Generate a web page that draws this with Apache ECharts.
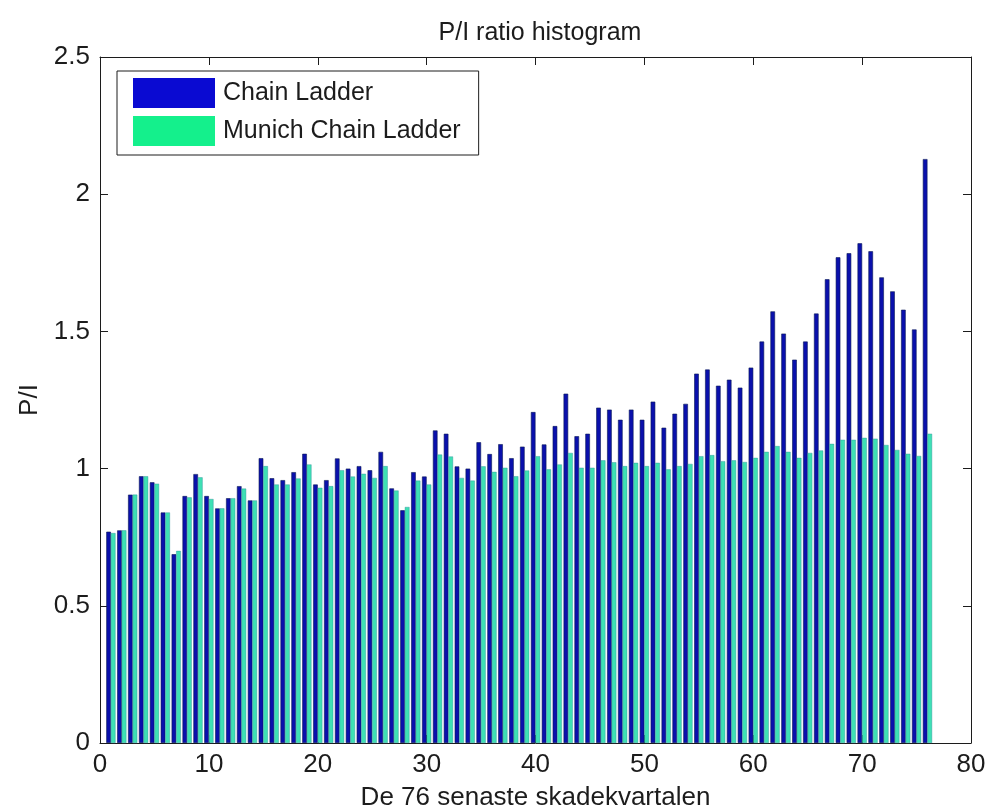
<!DOCTYPE html>
<html>
<head>
<meta charset="utf-8">
<title>P/I ratio histogram</title>
<script src="https://cdn.jsdelivr.net/npm/echarts@6/dist/echarts.min.js"></script>
<style>
  html, body { margin: 0; padding: 0; background: #fff; }
  #chart { width: 986px; height: 810px; }
</style>
</head>
<body>
<div id="chart"></div>
<script>
// Loss quarters (1 = oldest of the 76 most recent)
const quarters = [
  1, 2, 3, 4, 5, 6, 7, 8, 9, 10, 11, 12, 13, 14, 15, 16, 17, 18, 19, 20,
  21, 22, 23, 24, 25, 26, 27, 28, 29, 30, 31, 32, 33, 34, 35, 36, 37, 38, 39, 40,
  41, 42, 43, 44, 45, 46, 47, 48, 49, 50, 51, 52, 53, 54, 55, 56, 57, 58, 59, 60,
  61, 62, 63, 64, 65, 66, 67, 68, 69, 70, 71, 72, 73, 74, 75, 76
];

// P/I ratio per quarter, Chain Ladder
const chainLadder = [
  0.770, 0.775, 0.905, 0.972, 0.950, 0.840, 0.688, 0.900, 0.980, 0.900,
  0.855, 0.892, 0.936, 0.884, 1.038, 0.965, 0.958, 0.987, 1.054, 0.942,
  0.958, 1.037, 1.000, 1.009, 0.994, 1.061, 0.928, 0.848, 0.987, 0.971,
  1.139, 1.127, 1.008, 1.000, 1.096, 1.053, 1.089, 1.038, 1.080, 1.206,
  1.088, 1.155, 1.273, 1.118, 1.127, 1.222, 1.215, 1.178, 1.215, 1.178,
  1.244, 1.149, 1.200, 1.236, 1.346, 1.361, 1.302, 1.324, 1.295, 1.368,
  1.463, 1.573, 1.492, 1.397, 1.463, 1.565, 1.690, 1.770, 1.785, 1.821,
  1.792, 1.697, 1.646, 1.579, 1.507, 2.128
];

// P/I ratio per quarter, Munich Chain Ladder
const munichChainLadder = [
  0.765, 0.775, 0.905, 0.972, 0.945, 0.840, 0.700, 0.895, 0.968, 0.889,
  0.855, 0.892, 0.927, 0.884, 1.009, 0.942, 0.942, 0.964, 1.015, 0.930,
  0.936, 0.994, 0.971, 0.981, 0.966, 1.009, 0.920, 0.860, 0.956, 0.942,
  1.051, 1.044, 0.966, 0.956, 1.008, 0.988, 1.003, 0.972, 0.993, 1.045,
  0.997, 1.015, 1.057, 1.003, 1.003, 1.030, 1.023, 1.009, 1.021, 1.009,
  1.021, 0.997, 1.009, 1.017, 1.045, 1.049, 1.027, 1.030, 1.024, 1.039,
  1.061, 1.082, 1.061, 1.039, 1.057, 1.066, 1.090, 1.105, 1.105, 1.112,
  1.109, 1.086, 1.068, 1.054, 1.046, 1.127
];

const seriesNames = ['Chain Ladder', 'Munich Chain Ladder'];
const titleText = 'P/I ratio histogram';
const xAxisTitle = 'De 76 senaste skadekvartalen';
const yAxisTitle = 'P/I';

const FONT = "'Liberation Sans', Arial, sans-serif";
const INK = '#1c1c1c';

const pairs = (vals) => quarters.map((q, i) => [q, vals[i]]);

const tickStyle = { show: true, inside: true, length: 8, lineStyle: { color: INK, width: 1 } };
const lineStyle = { show: true, onZero: false, lineStyle: { color: INK, width: 1 } };

const chart = echarts.init(document.getElementById('chart'), null, { renderer: 'canvas' });

chart.setOption({
  animation: false,
  backgroundColor: '#ffffff',
  title: {
    text: titleText,
    left: 535,
    textAlign: 'center',
    top: 16,
    textStyle: { fontFamily: FONT, fontSize: 25, fontWeight: 'normal', color: INK }
  },
  // fixed plot box; axis names sit outside it without shrinking it
  grid: { left: 100, right: 15, top: 57, bottom: 67, containLabel: false, outerBoundsMode: 'none' },
  legend: {
    orient: 'vertical',
    left: 117,
    top: 71,
    padding: [7, 18, 9, 16],
    itemWidth: 82,
    itemHeight: 30,
    itemGap: 8,
    icon: 'rect',
    borderColor: INK,
    borderWidth: 1,
    backgroundColor: '#ffffff',
    textStyle: { fontFamily: FONT, fontSize: 25, color: INK, padding: [0, 0, 0, 3] },
    data: [
      { name: seriesNames[0], itemStyle: { color: '#0a0ad2', borderWidth: 0 } },
      { name: seriesNames[1], itemStyle: { color: '#14f08c', borderWidth: 0 } }
    ]
  },
  xAxis: [
    {
      type: 'value',
      position: 'bottom',
      min: 0, max: 80, interval: 10,
      name: xAxisTitle,
      nameLocation: 'middle',
      nameGap: 42,
      nameTextStyle: { fontFamily: FONT, fontSize: 26, color: INK },
      axisLine: lineStyle,
      axisTick: tickStyle,
      axisLabel: { fontFamily: FONT, fontSize: 26, color: INK, margin: 9 },
      splitLine: { show: false }
    },
    {
      type: 'value',
      position: 'top',
      min: 0, max: 80, interval: 10,
      axisLine: lineStyle,
      axisTick: tickStyle,
      axisLabel: { show: false },
      splitLine: { show: false }
    }
  ],
  yAxis: [
    {
      type: 'value',
      position: 'left',
      min: 0, max: 2.5, interval: 0.5,
      name: yAxisTitle,
      nameLocation: 'middle',
      nameGap: 56,
      nameTextStyle: { fontFamily: FONT, fontSize: 26, color: INK },
      axisLine: lineStyle,
      axisTick: tickStyle,
      axisLabel: { fontFamily: FONT, fontSize: 26, color: INK, margin: 10 },
      splitLine: { show: false }
    },
    {
      type: 'value',
      position: 'right',
      min: 0, max: 2.5, interval: 0.5,
      axisLine: lineStyle,
      axisTick: tickStyle,
      axisLabel: { show: false },
      splitLine: { show: false }
    }
  ],
  series: [
    {
      name: seriesNames[0],
      type: 'bar',
      xAxisIndex: 0,
      yAxisIndex: 0,
      barWidth: 4.6,
      barGap: '0%',
      itemStyle: { color: '#0a10ac', borderColor: '#0a1a56', borderWidth: 0.6 },
      data: pairs(chainLadder)
    },
    {
      name: seriesNames[1],
      type: 'bar',
      xAxisIndex: 0,
      yAxisIndex: 0,
      barWidth: 4.6,
      barGap: '0%',
      itemStyle: { color: '#3ee0b4', borderColor: '#2a8c9a', borderWidth: 0.4 },
      data: pairs(munichChainLadder)
    }
  ]
});
</script>
</body>
</html>
